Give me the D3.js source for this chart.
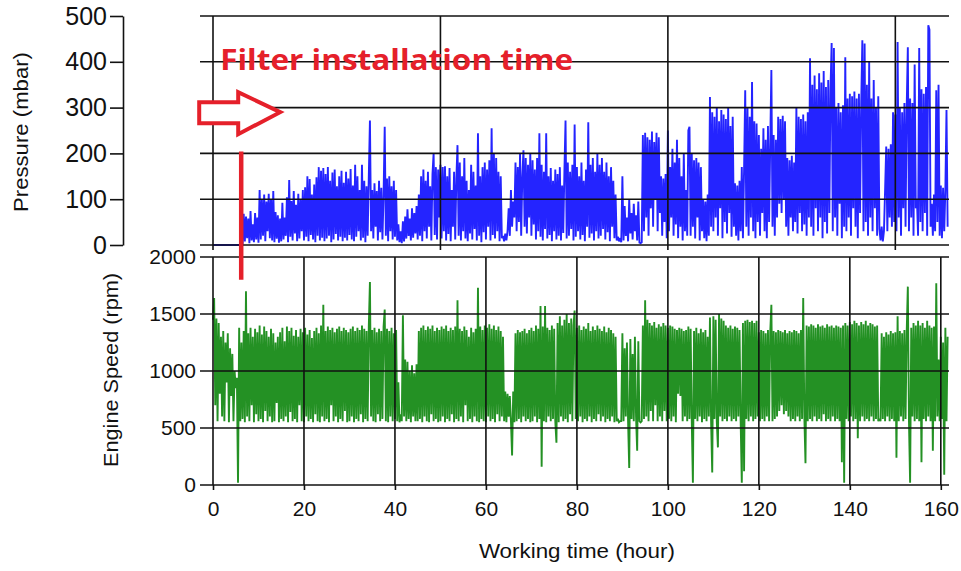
<!DOCTYPE html>
<html>
<head>
<meta charset="utf-8">
<script src="https://cdn.jsdelivr.net/npm/d3@7"></script>
<style>
  body { margin: 0; background: #fff; }
  svg { display: block; }
  text { font-family: "Liberation Sans", Arial, sans-serif; fill: #111; }
  .tick line, .domain { stroke: #111; stroke-width: 1.6; }
  .grid { stroke: #111; stroke-width: 1.6; }
  .axis-label { font-size: 20px; }
</style>
</head>
<body>
<svg width="961" height="571"></svg>
<script>
// samples every 0.25 hour
const sampleStep = 0.25;

const pressure = [
  0,0,0,0,0,0,0,0,0,0,0,0,0,0,0,0,0,0,0,0,
  0,0,0,0,0,0,0,68,8,62,15,58,4,74,10,45,6,70,12,60,
  5,120,12,98,20,110,8,95,30,112,15,100,10,118,6,72,14,65,5,58,
  8,92,12,60,20,104,6,142,18,96,10,118,25,88,8,112,14,100,30,120,
  10,126,18,150,8,144,22,110,12,132,6,148,20,170,10,162,16,168,8,155,
  14,170,20,140,6,158,12,165,24,128,10,150,18,162,8,136,16,160,10,145,
  22,166,12,130,8,175,18,150,30,120,10,175,16,140,6,128,20,150,272,30,
  120,14,135,40,118,10,140,28,125,12,110,258,20,145,8,150,30,128,12,140,
  18,120,10,45,6,30,4,52,8,62,14,78,20,58,10,80,16,70,25,85,
  12,110,20,150,8,165,30,140,14,160,40,128,10,155,200,22,170,12,165,60,
  175,14,170,30,172,10,150,24,168,8,120,40,160,12,145,218,20,180,10,150,
  30,190,14,140,8,120,25,175,12,160,35,130,10,244,20,150,6,170,28,180,
  12,165,40,185,10,255,22,200,14,190,30,160,8,150,15,20,8,25,10,30,
  80,20,120,40,95,60,180,30,170,50,200,20,150,207,40,190,25,175,60,200,
  20,185,45,165,12,190,30,244,18,175,10,160,35,244,14,150,22,168,8,140,
  30,165,12,155,20,170,10,130,26,160,272,14,180,20,160,35,175,10,263,18,
  170,30,150,12,180,22,140,8,165,40,268,16,175,25,190,10,160,30,200,14,
  175,20,190,35,160,12,180,28,150,8,170,40,140,15,110,10,18,8,15,6,
  150,10,85,20,60,8,100,25,70,12,90,30,65,10,95,5,4,6,240,30,
  245,60,235,20,230,80,248,40,225,100,245,30,235,70,150,20,145,50,155,15,
  250,30,170,60,210,20,180,45,230,15,190,40,150,10,200,30,120,20,250,258,
  20,200,40,185,14,190,60,180,10,170,30,100,15,95,8,110,20,323,40,290,
  30,280,60,300,20,270,80,295,15,285,50,275,25,300,70,260,18,280,40,135,
  20,130,10,140,30,170,15,165,338,40,300,20,280,60,356,30,270,15,265,50,
  240,20,210,70,255,30,230,15,260,50,220,382,40,240,20,230,60,280,90,275,
  70,282,100,270,40,190,20,185,60,195,30,180,50,300,25,280,70,275,30,285,
  45,270,20,290,60,408,40,350,20,370,80,340,30,375,60,355,15,380,50,345,
  25,360,70,340,441,30,430,60,300,20,310,90,290,15,305,40,410,30,320,60,
  330,20,325,80,335,40,320,15,330,70,310,447,30,440,50,350,20,400,60,320,
  30,360,80,300,20,325,35,10,40,8,30,120,215,30,210,60,220,40,290,50,
  285,30,443,60,300,20,290,80,310,40,300,432,30,320,60,310,20,394,80,100,
  20,430,50,340,30,330,70,345,20,480,470,40,90,20,110,30,338,50,350,20,
  130,15,125,30,120,295,40
];

const engineSpeed = [
  1450,1640,700,1460,560,1420,800,1300,600,1350,560,1250,900,1330,550,1200,780,1150,560,1000,
  850,940,20,1380,560,1250,580,1350,550,1700,600,1330,560,1380,700,1300,550,1370,620,1340,
  560,1400,580,1320,550,1390,650,1350,560,1300,600,1370,550,1330,560,1250,720,1300,550,1340,
  580,1380,560,1260,600,1390,550,1350,640,1380,560,1310,580,1360,550,1300,700,1370,560,1340,
  550,1380,600,1320,560,1360,580,1290,550,1350,620,1380,560,1330,550,1400,600,1580,560,1350,
  580,1390,550,1360,700,1380,560,1340,600,1370,550,1390,580,1350,560,1380,650,1360,550,1340,
  560,1370,600,1390,550,1350,580,1380,560,1360,620,1400,550,1370,580,1350,560,1390,1780,600,
  1360,560,1380,550,1340,620,1370,560,1350,580,1390,1540,560,1370,550,1350,600,1380,560,1330,
  580,1360,560,900,550,620,560,1490,600,1100,560,1080,580,1000,550,1050,600,980,560,1060,
  560,1350,580,1380,550,1400,600,1360,560,1390,550,1370,620,1400,560,1350,580,1380,550,1360,
  560,1390,600,1370,550,1400,580,1350,560,1380,620,1360,550,1390,580,1620,560,1370,600,1350,
  550,1390,700,1360,560,1300,580,1380,550,1340,600,1370,560,1730,550,1390,580,1360,560,1400,
  550,1380,600,1410,560,1370,580,1400,550,1360,620,1390,560,1350,600,1300,560,820,550,800,
  600,780,560,260,820,550,1330,560,1360,580,1340,550,1350,600,1370,560,1330,580,1360,550,
  1380,560,1350,600,1400,550,1370,580,1570,160,1390,560,1570,550,1380,600,1360,560,1400,580,
  1370,560,370,1420,550,1480,600,1400,560,1450,580,1500,550,1420,620,1460,560,1400,1530,580,
  1380,560,1400,600,1360,550,1390,580,1370,560,1420,600,1350,550,1390,580,1360,560,1400,620,
  1370,560,1350,600,1390,550,1340,580,1380,560,1360,600,1330,550,1300,560,580,550,560,560,
  1330,560,1200,600,1250,560,150,1280,580,1150,560,1300,600,300,1260,560,550,560,1400,580,
  1620,600,1450,560,1420,650,1400,560,1430,700,1380,560,1410,600,1390,560,1420,650,1400,560,
  1380,580,1400,560,1390,600,1370,550,1360,800,1380,780,1370,560,1350,600,1360,560,1390,580,
  1370,560,20,1350,580,1380,560,1330,600,1370,550,1340,580,1360,560,1300,600,1470,560,110,
  1480,580,1450,560,330,1500,600,1460,560,1440,580,1400,560,1380,600,1400,560,1370,580,1390,
  560,1380,600,1360,560,20,1420,120,1440,580,1450,560,1430,600,1440,560,1420,580,1440,600,
  1340,560,1360,580,1350,560,1330,600,1360,560,1340,1580,560,1350,580,1340,600,1360,650,1350,
  700,1340,620,1360,650,1330,600,1350,560,1340,580,1360,560,1350,600,1330,560,1360,580,1640,
  600,190,1400,560,1390,580,1410,560,1400,600,1380,560,1410,580,1390,560,1400,620,1380,560,
  1410,580,1390,560,1400,600,1380,560,1400,580,1390,560,1380,200,1400,20,1420,580,1400,560,
  1430,600,1410,560,1440,580,1420,410,1400,560,1430,600,1410,560,1440,580,1400,560,1420,600,
  1410,560,1390,580,1400,560,580,560,1330,580,1300,560,1340,600,1320,560,1350,580,1330,560,
  1340,240,1480,560,1350,600,1330,560,1360,580,1340,1740,560,20,1380,600,1420,560,1400,580,
  1440,560,1400,200,1420,580,1380,560,1440,600,1400,560,1380,300,1390,560,1770,600,1100,560,
  1300,580,1250,90,1380,560,1300
];

const pressureTicks = [0, 100, 200, 300, 400, 500];
const speedTicks = [0, 500, 1000, 1500, 2000];
const topHourTicks = [0, 50, 100, 150];
const hourTicks = [0, 20, 40, 60, 80, 100, 120, 140, 160];

const filterTime = 6.2;
const annotationText = "Filter installation time";

const svg = d3.select("svg");

const plotLeft = 213;
const plotRight = 949;
const gridLeft = 200;

const xScale = d3.scaleLinear().domain([0, 161.8]).range([plotLeft, plotRight]);
const yPressure = d3.scaleLinear().domain([0, 500]).range([245, 16]);
const ySpeed = d3.scaleLinear().domain([0, 2000]).range([485, 257]);

const lineP = d3.line()
  .x((d, i) => xScale(i * sampleStep))
  .y(d => yPressure(d));

const lineS = d3.line()
  .x((d, i) => xScale(i * sampleStep))
  .y(d => ySpeed(d));

// data
svg.append("path")
  .attr("d", lineP(pressure))
  .attr("fill", "none")
  .attr("stroke", "#0000ff")
  .attr("stroke-opacity", 0.86)
  .attr("stroke-width", 1.9)
  .attr("stroke-linejoin", "miter")
  .attr("stroke-miterlimit", 2);

svg.append("path")
  .attr("d", lineS(engineSpeed))
  .attr("fill", "none")
  .attr("stroke", "#007f00")
  .attr("stroke-opacity", 0.86)
  .attr("stroke-width", 1.9)
  .attr("stroke-linejoin", "miter")
  .attr("stroke-miterlimit", 2);

// grids, top panel
svg.selectAll(".hgrid-top")
  .data(pressureTicks)
  .join("line")
  .attr("class", "grid")
  .attr("x1", gridLeft)
  .attr("x2", plotRight)
  .attr("y1", d => yPressure(d))
  .attr("y2", d => yPressure(d));

svg.selectAll(".vgrid-top")
  .data(topHourTicks)
  .join("line")
  .attr("class", "grid")
  .attr("x1", d => xScale(d))
  .attr("x2", d => xScale(d))
  .attr("y1", yPressure(500))
  .attr("y2", yPressure(0) + 5);

// grids, bottom panel
svg.selectAll(".hgrid-bot")
  .data(speedTicks)
  .join("line")
  .attr("class", "grid")
  .attr("x1", gridLeft)
  .attr("x2", plotRight)
  .attr("y1", d => ySpeed(d))
  .attr("y2", d => ySpeed(d));

svg.selectAll(".vgrid-bot")
  .data(hourTicks)
  .join("line")
  .attr("class", "grid")
  .attr("x1", d => xScale(d))
  .attr("x2", d => xScale(d))
  .attr("y1", ySpeed(2000))
  .attr("y2", ySpeed(0));

// axes
const yAxisP = d3.axisLeft(yPressure)
  .tickValues(pressureTicks)
  .tickSize(13)
  .tickSizeOuter(0)
  .tickPadding(3);

const yAxisPG = svg.append("g")
  .attr("transform", "translate(123,0)")
  .call(yAxisP);
yAxisPG.selectAll("text").style("font-size", "25px");

const yAxisS = d3.axisLeft(ySpeed)
  .tickValues(speedTicks)
  .tickFormat(d3.format("d"))
  .tickSize(0)
  .tickSizeOuter(0)
  .tickPadding(17);

const yAxisSG = svg.append("g")
  .attr("transform", `translate(${plotLeft},0)`)
  .call(yAxisS);
yAxisSG.select(".domain").remove();
yAxisSG.selectAll("text").style("font-size", "21px");

const xAxis = d3.axisBottom(xScale)
  .tickValues(hourTicks)
  .tickSize(5)
  .tickSizeOuter(0)
  .tickPadding(11);

const xAxisG = svg.append("g")
  .attr("transform", `translate(0,${ySpeed(0)})`)
  .call(xAxis);
xAxisG.select(".domain").remove();
xAxisG.selectAll("text").style("font-size", "21px");

// axis titles
svg.append("text")
  .attr("class", "axis-label")
  .attr("transform", "translate(28,132) rotate(-90)")
  .attr("text-anchor", "middle")
  .attr("textLength", 160)
  .attr("lengthAdjust", "spacingAndGlyphs")
  .text("Pressure (mbar)");

svg.append("text")
  .attr("class", "axis-label")
  .attr("transform", "translate(118,370) rotate(-90)")
  .attr("text-anchor", "middle")
  .attr("textLength", 194)
  .attr("lengthAdjust", "spacingAndGlyphs")
  .text("Engine Speed (rpm)");

svg.append("text")
  .attr("class", "axis-label")
  .attr("x", xScale(80))
  .attr("y", 558)
  .attr("text-anchor", "middle")
  .attr("textLength", 196)
  .attr("lengthAdjust", "spacingAndGlyphs")
  .text("Working time (hour)");

// annotation
const red = "#e5202a";

svg.append("line")
  .attr("x1", xScale(filterTime))
  .attr("x2", xScale(filterTime))
  .attr("y1", yPressure(200) - 2)
  .attr("y2", ySpeed(1800))
  .attr("stroke", red)
  .attr("stroke-width", 4.5);

const ax = xScale(filterTime) - 42;
const ay = yPressure(290);
svg.append("path")
  .attr("d", `M${ax},${ay - 10} L${ax + 39},${ay - 10} L${ax + 39},${ay - 20} L${ax + 81},${ay} L${ax + 39},${ay + 22} L${ax + 39},${ay + 11} L${ax},${ay + 11} Z`)
  .attr("fill", "#fff")
  .attr("stroke", red)
  .attr("stroke-width", 4);

svg.append("text")
  .attr("x", xScale(filterTime) - 21)
  .attr("y", 70)
  .attr("textLength", 353)
  .attr("lengthAdjust", "spacingAndGlyphs")
  .style("font-family", "'Open Sans', sans-serif")
  .style("font-weight", "bold")
  .style("font-size", "28px")
  .style("fill", red)
  .text(annotationText);
</script>
</body>
</html>
